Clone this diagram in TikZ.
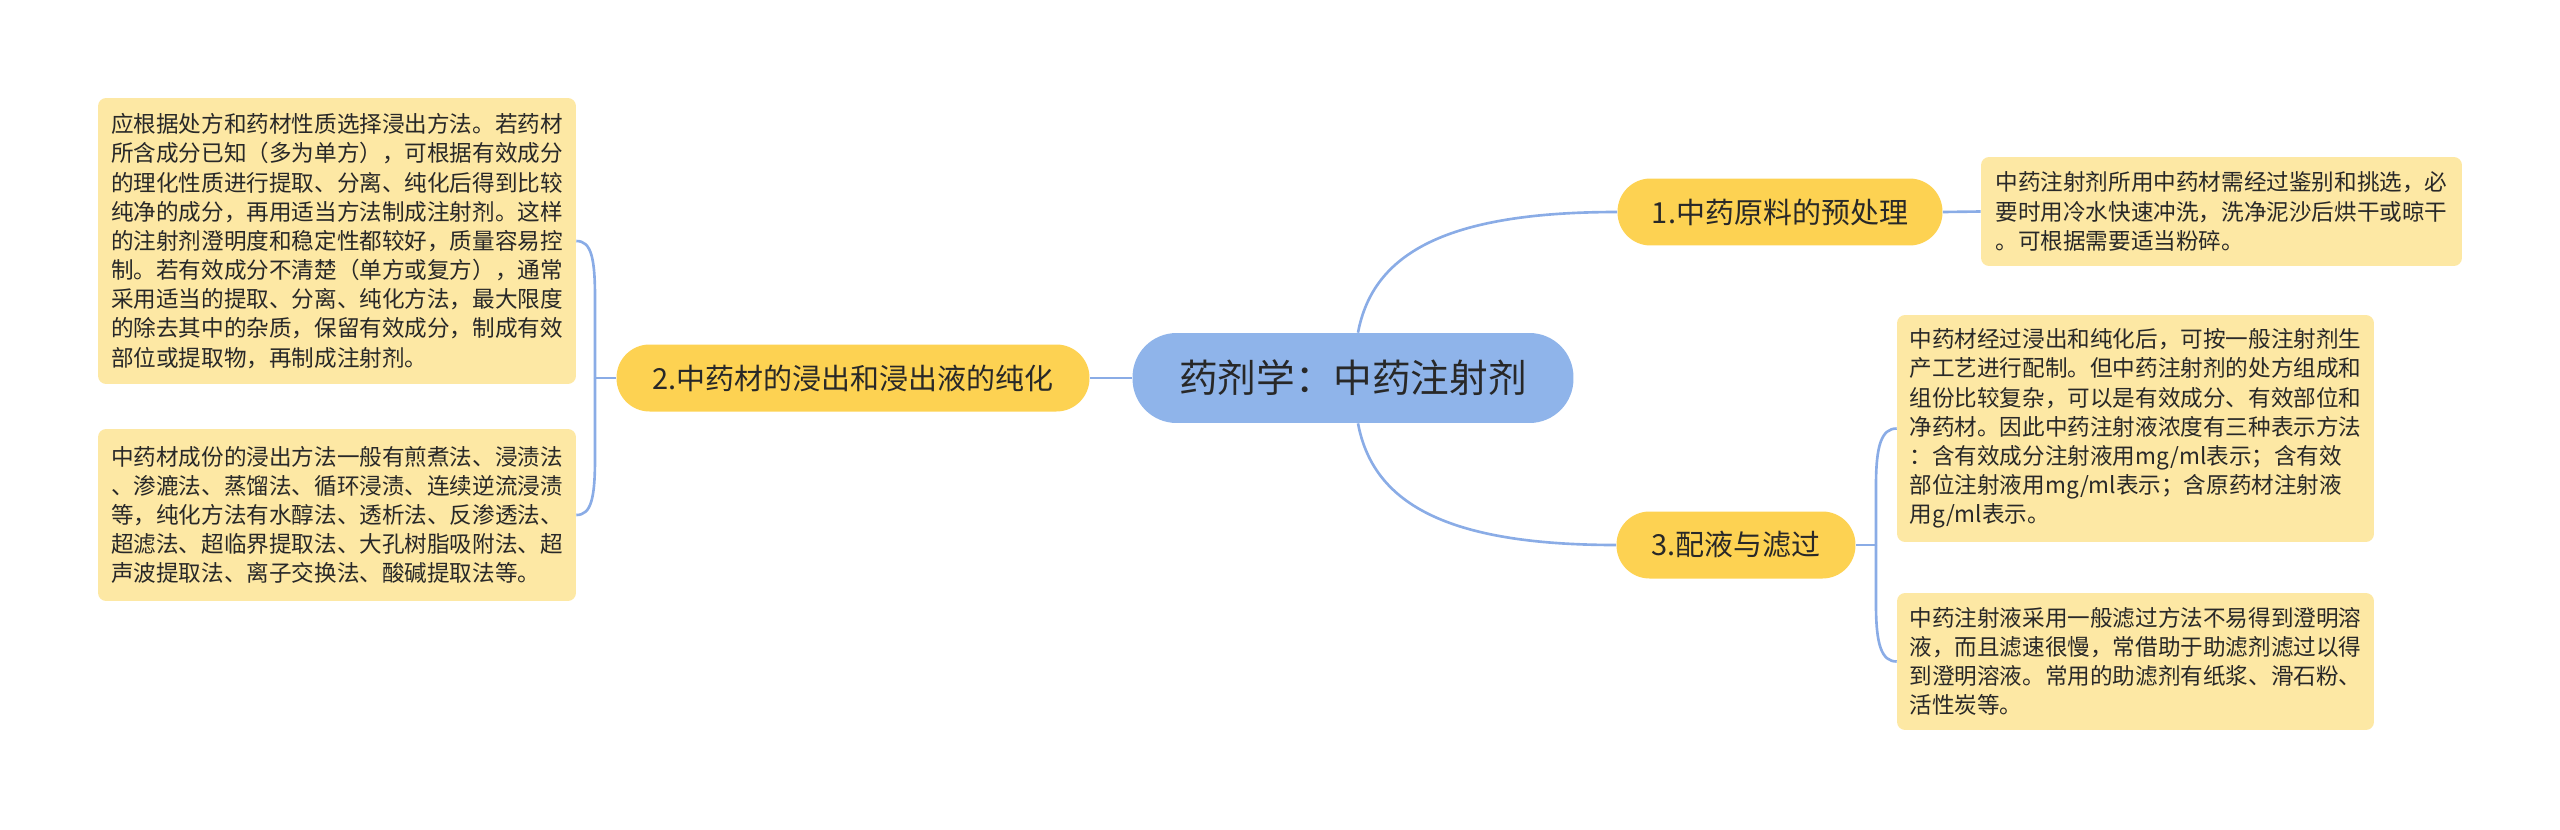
\documentclass[tikz,border=0pt]{standalone}
\usepackage{fontspec}
\setmainfont{Noto Sans CJK SC}
\usepackage{tikz}

\definecolor{rootblue}{RGB}{143,180,234}
\definecolor{branchgold}{RGB}{253,210,82}
\definecolor{notecream}{RGB}{253,232,164}
\definecolor{linkblue}{RGB}{138,172,230}
\definecolor{inkgray}{RGB}{40,40,40}

\begin{document}
\begin{tikzpicture}[x=0.02cm,y=-0.02cm]
  \tikzset{topic/.style = {shape=rectangle,rounded corners=0.88cm,fill=rootblue,text=inkgray,minimum width=8.82cm,minimum height=1.8cm,inner sep=0pt,font=\fontsize{22}{26}\selectfont}}
  \tikzset{branch/.style = {shape=rectangle,rounded corners=0.66cm,fill=branchgold,text=inkgray,minimum height=1.34cm,inner sep=0pt,font=\fontsize{16.5}{20}\selectfont}}
  \tikzset{note/.style = {shape=rectangle,rounded corners=0.16cm,fill=notecream,text=inkgray,align=left,inner sep=0pt,font=\fontsize{12.86}{16.6}\selectfont}}
  \tikzset{link/.style = {draw=linkblue,line width=1.5pt}}

  \useasboundingbox (0,0) rectangle (2560,829);

	\node[topic] (root) at (1353,378) {药剂学：中药注射剂};
	\node[branch,minimum width=6.5cm] (b1) at (1780,212) {1.中药原料的预处理};
	\node[branch,minimum width=9.46cm] (b2) at (853,378) {2.中药材的浸出和浸出液的纯化};
	\node[branch,minimum width=4.78cm] (b3) at (1736,545) {3.配液与滤过};

	\node[note,minimum width=9.62cm,minimum height=2.18cm] (r1) at (2221.5,211.5) {中药注射剂所用中药材需经过鉴别和挑选，必\\要时用冷水快速冲洗，洗净泥沙后烘干或晾干\\。可根据需要适当粉碎。};
	\node[note,minimum width=9.56cm,minimum height=5.72cm] (l1) at (337,241) {应根据处方和药材性质选择浸出方法。若药材\\所含成分已知（多为单方），可根据有效成分\\的理化性质进行提取、分离、纯化后得到比较\\纯净的成分，再用适当方法制成注射剂。这样\\的注射剂澄明度和稳定性都较好，质量容易控\\制。若有效成分不清楚（单方或复方），通常\\采用适当的提取、分离、纯化方法，最大限度\\的除去其中的杂质，保留有效成分，制成有效\\部位或提取物，再制成注射剂。};
	\node[note,minimum width=9.56cm,minimum height=3.44cm] (l2) at (337,515) {中药材成份的浸出方法一般有煎煮法、浸渍法\\、渗漉法、蒸馏法、循环浸渍、连续逆流浸渍\\等，纯化方法有水醇法、透析法、反渗透法、\\超滤法、超临界提取法、大孔树脂吸附法、超\\声波提取法、离子交换法、酸碱提取法等。};
	\node[note,minimum width=9.54cm,minimum height=4.54cm] (r2) at (2135.5,428.5) {中药材经过浸出和纯化后，可按一般注射剂生\\产工艺进行配制。但中药注射剂的处方组成和\\组份比较复杂，可以是有效成分、有效部位和\\净药材。因此中药注射液浓度有三种表示方法\\：含有效成分注射液用mg/ml表示；含有效\\部位注射液用mg/ml表示；含原药材注射液\\用g/ml表示。};
	\node[note,minimum width=9.54cm,minimum height=2.74cm] (r3) at (2135.5,661.5) {中药注射液采用一般滤过方法不易得到澄明溶\\液，而且滤速很慢，常借助于助滤剂滤过以得\\到澄明溶液。常用的助滤剂有纸浆、滑石粉、\\活性炭等。};

	\coordinate (fork2) at (595,378);
	\coordinate (fork3) at (1876,545);

	\draw[link] (root.west) -- (b2.east);
	\draw[link] ([xshift=0.1cm]root.north) .. controls +(15,-80) and +(-170,0) .. (b1.west);
	\draw[link] ([xshift=0.1cm]root.south) .. controls +(15,80) and +(-170,0) .. (b3.west);
	\draw[link] (b1.east) -- (r1.west);

	\draw[link] (b2.west) -- (fork2);
	\draw[link] (fork2) -- ++(0,-80) .. controls +(0,-40) and +(15,0) .. (l1.east);
	\draw[link] (fork2) -- ++(0,80) .. controls +(0,40) and +(15,0) .. (l2.east);

	\draw[link] (b3.east) -- (fork3);
	\draw[link] (fork3) -- ++(0,-60) .. controls +(0,-40) and +(-15,0) .. (r2.west);
	\draw[link] (fork3) -- ++(0,60) .. controls +(0,40) and +(-15,0) .. (r3.west);
\end{tikzpicture}
\end{document}
